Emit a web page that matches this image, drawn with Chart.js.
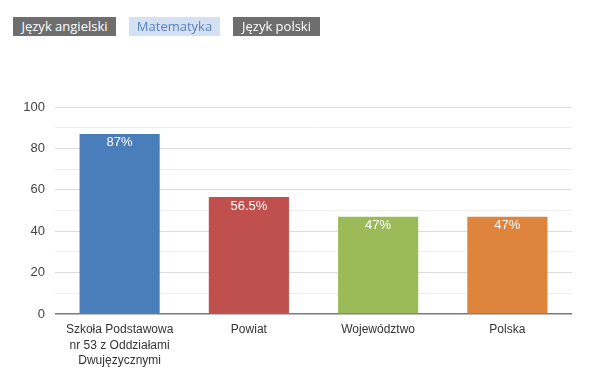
<!DOCTYPE html>
<html>
<head>
<meta charset="utf-8">
<script src="https://cdn.jsdelivr.net/npm/chart.js@4"></script>
<style>
  body { margin: 0; background: #fff; }
  #wrap { position: relative; width: 600px; height: 372px; }
  #tabs { position: absolute; left: 13px; top: 17px; font-family: "Open Sans", sans-serif; font-size: 13px; }
  .tab { position: absolute; top: 0; height: 19px; line-height: 19px; text-align: center; white-space: nowrap; }
  .off { background: #6e6e6e; color: #fff; }
  .on { background: #d3e1f3; color: #5a7fbf; }
  canvas { position: absolute; left: 0; top: 0; }
</style>
</head>
<body>
<div id="wrap">
  <canvas id="chart" width="600" height="372"></canvas>
  <div id="tabs">
    <div class="tab off" style="left:0;width:103px">Język angielski</div>
    <div class="tab on" style="left:116px;width:91px">Matematyka</div>
    <div class="tab off" style="left:220px;width:87px">Język polski</div>
  </div>
</div>
<script>
// data
const categories = [
    ['Szkoła Podstawowa', 'nr 53 z Oddziałami', 'Dwujęzycznymi'],
    'Powiat',
    'Województwo',
    'Polska'
];
const values = [87, 56.5, 47, 47];
const valueLabels = ['87%', '56.5%', '47%', '47%'];
const barColors = ['#4a7ebb', '#c0504d', '#9bbb59', '#de843d'];
const yTicks = [0, 20, 40, 60, 80, 100];

// draws the percentage text inside the top of each bar
const barLabels = {
    id: 'barLabels',
    afterDatasetsDraw(chart) {
        const ctx = chart.ctx;
        const meta = chart.getDatasetMeta(0);
        ctx.save();
        ctx.fillStyle = '#fff';
        ctx.font = '13px "Liberation Sans", Arial, sans-serif';
        ctx.textAlign = 'center';
        ctx.textBaseline = 'middle';
        meta.data.forEach((bar, i) => {
            ctx.fillText(valueLabels[i], bar.x, bar.y + 9);
        });
        ctx.restore();
    }
};

new Chart(document.getElementById('chart').getContext('2d'), {
    type: 'bar',
    data: {
        labels: categories,
        datasets: [{ data: values, backgroundColor: barColors, barPercentage: 1, categoryPercentage: 0.62 }]
    },
    options: {
        responsive: false,
        animation: false,
        layout: { padding: { top: 107, right: 28, left: 0, bottom: 0 } },
        plugins: { legend: { display: false }, tooltip: { enabled: false } },
        scales: {
            x: {
                grid: { display: false },
                border: { display: false },
                ticks: { color: '#333', font: { family: '"Liberation Sans", Arial, sans-serif', size: 12, lineHeight: 1.3 }, padding: 0, maxRotation: 0 },
                afterFit: (s) => { s.height = 58; }
            },
            y: {
                min: 0, max: 100,
                border: { display: false },
                ticks: {
                    stepSize: 10,
                    color: '#444',
                    padding: 10,
                    font: { family: '"Liberation Sans", Arial, sans-serif', size: 13 },
                    callback: (v) => yTicks.includes(v) ? v : ''
                },
                grid: {
                    drawTicks: false,
                    color: (c) => c.tick.value === 0 ? '#7a7a7a' : (yTicks.includes(c.tick.value) ? '#dcdcdc' : '#eeeeee'),
                    lineWidth: (c) => c.tick.value === 0 ? 1.5 : 1
                },
                afterFit: (s) => { s.width = 55; }
            }
        }
    },
    plugins: [barLabels]
});
</script>
</body>
</html>
